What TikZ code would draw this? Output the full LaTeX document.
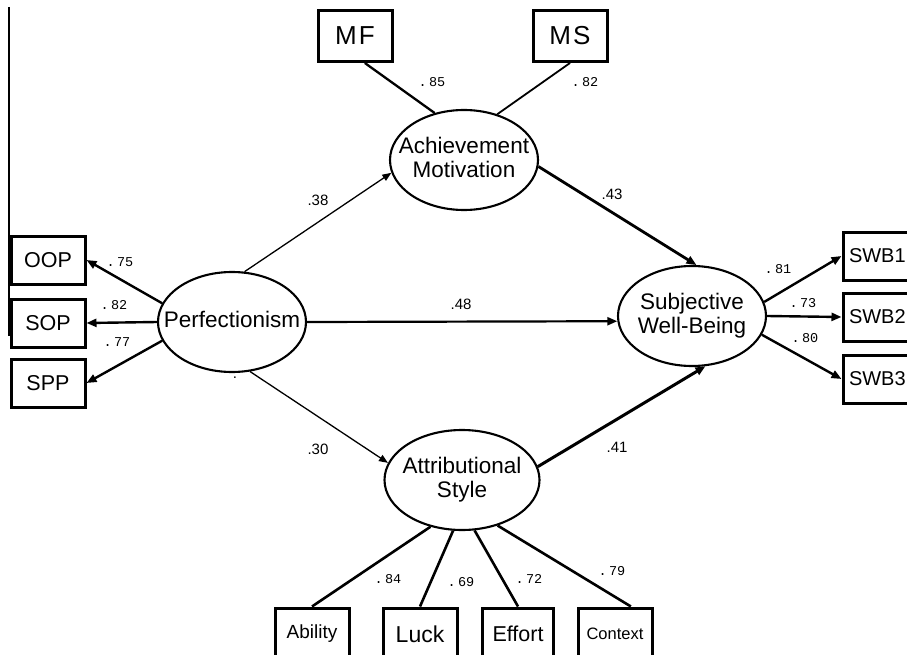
\documentclass[tikz,border=0pt]{standalone}
\usepackage{fontspec}
\setmainfont{Liberation Sans}
\setmonofont{Liberation Mono}
\newfontfamily\widefont[LetterSpace=8]{Liberation Sans}
\usetikzlibrary{arrows.meta,shapes.geometric}

% text of a latent variable, kept out of the ellipse size
\newcommand{\latname}[1]{\makebox[0pt]{\raisebox{-0.25em}[0pt][0pt]{\begin{tabular}[c]{@{}c@{}}#1\end{tabular}}}}
% text of a box cut by the right edge
\newcommand{\edgename}[1]{\makebox[62pt][l]{#1}}

\begin{document}
\begin{tikzpicture}[x=1pt,y=-1pt,
    lat/.style={ellipse,draw,line width=2.1pt,inner sep=0pt,minimum width=148pt,minimum height=100pt,font=\fontsize{22.5}{24}\selectfont},
    obs/.style={rectangle,draw,line width=3pt,inner sep=0pt,minimum width=74pt,minimum height=48pt,font=\fontsize{21.5}{24}\selectfont},
    coef/.style={inner sep=0pt,font=\ttfamily\fontsize{13.5}{15}\selectfont},
    beta/.style={inner sep=0pt,font=\fontsize{15}{17}\selectfont},
    arr/.style={-{Triangle[length=10pt,width=8pt]},line width=2.4pt},
    thinarr/.style={-{Triangle[length=9pt,width=7pt]},line width=1.3pt}]
    \useasboundingbox (0,0) rectangle (907,655);
    \draw[line width=1.2pt] (9,7) -- (9,336);

    % latent variables
    \node[lat] (am) at (464,160) {\latname{Achievement\\Motivation}};
    \node[lat] (perf) at (232,322) {\latname{Perfectionism}};
    \node[lat] (swb) at (692,316) {\latname{Subjective\\Well-Being}};
    \node[lat, minimum width=155pt] (as) at (462,480) {\latname{Attributional\\Style}};

    % indicators
    \node[obs, minimum height=51pt, font=\widefont\fontsize{26}{28}\selectfont] (mf) at (355,36) {MF};
    \node[obs, minimum height=51pt, font=\widefont\fontsize{26}{28}\selectfont] (ms) at (570,36) {MS};
    \node[obs] (oop) at (48,260) {OOP};
    \node[obs] (sop) at (48,323) {SOP};
    \node[obs] (spp) at (48,383) {SPP};
    \node[obs, font=\fontsize{20}{24}\selectfont] (swba) at (880,256) {\edgename{SWB1}};
    \node[obs, font=\fontsize{20}{24}\selectfont] (swbb) at (880,317) {\edgename{SWB2}};
    \node[obs, font=\fontsize{20}{24}\selectfont] (swbc) at (880,379) {\edgename{SWB3}};
    \node[obs, minimum height=52pt, font=\fontsize{19}{20}\selectfont] (abil) at (312,634) {Ability};
    \node[obs, minimum height=52pt, font=\fontsize{23}{24}\selectfont] (luck) at (420,634) {Luck};
    \node[obs, minimum height=52pt, minimum width=71pt, font=\fontsize{21.5}{24}\selectfont] (eff) at (518,634) {Effort};
    \node[obs, minimum height=52pt, font=\fontsize{16.5}{20}\selectfont] (ctx) at (615,634) {Context};

    % loadings
    \draw[line width=2.3pt] (mf.290) -- (am.122);
    \draw[line width=1.8pt] (ms.south) -- (am.54);
    \draw[arr] (perf.165) -- (oop.east);
    \draw[arr] (perf.west) -- (sop.east);
    \draw[arr] (perf.195) -- (spp.east);
    \draw[arr] (swb.11) -- (swba.west);
    \draw[arr] (swb.east) -- (swbb.west);
    \draw[arr] (swb.-15) -- (swbc.west);
    \draw[line width=2.6pt] (abil.north) -- (as.236);
    \draw[line width=2.6pt] (luck.north) -- (as.260);
    \draw[line width=2.6pt] (eff.north) -- (as.284);
    \draw[line width=2.6pt] (ctx.60) -- (as.308);

    % paths
    \draw[thinarr] (perf.76) -- (am.190);
    \draw[thinarr] (perf.-70) -- (as.167);
    \draw[arr, line width=2.2pt] (perf.east) -- (swb.184);
    \draw[arr, line width=2.8pt] (am.-5) -- (swb.85);
    \draw[arr, line width=3pt] (as.10) -- (swb.-75);

    % coefficients
    \node[coef] (l85) at (432,82) {.\,85};
    \node[coef] (l82) at (585,82) {.\,82};
    \node[coef] (l75) at (120,262) {.\,75};
    \node[coef] (l82b) at (114,305) {.\,82};
    \node[coef] (l77) at (117,342) {.\,77};
    \node[coef] (l81) at (778,269) {.\,81};
    \node[coef] (l73) at (803,303) {.\,73};
    \node[coef] (l80) at (805,338) {.\,80};
    \node[coef] (l84) at (388,579) {.\,84};
    \node[coef] (l69) at (461,582) {.\,69};
    \node[coef] (l72) at (529,579) {.\,72};
    \node[coef] (l79) at (612,571) {.\,79};
    \node[beta] (l38) at (318,200) {.38};
    \node[beta] (l43) at (612,194) {.43};
    \node[beta] (l48) at (461,304) {.48};
    \node[beta] (l30) at (318,449) {.30};
    \node[beta] (l41) at (617,447) {.41};
    \node[beta] (ldot) at (235,378) {.};
\end{tikzpicture}
\end{document}
